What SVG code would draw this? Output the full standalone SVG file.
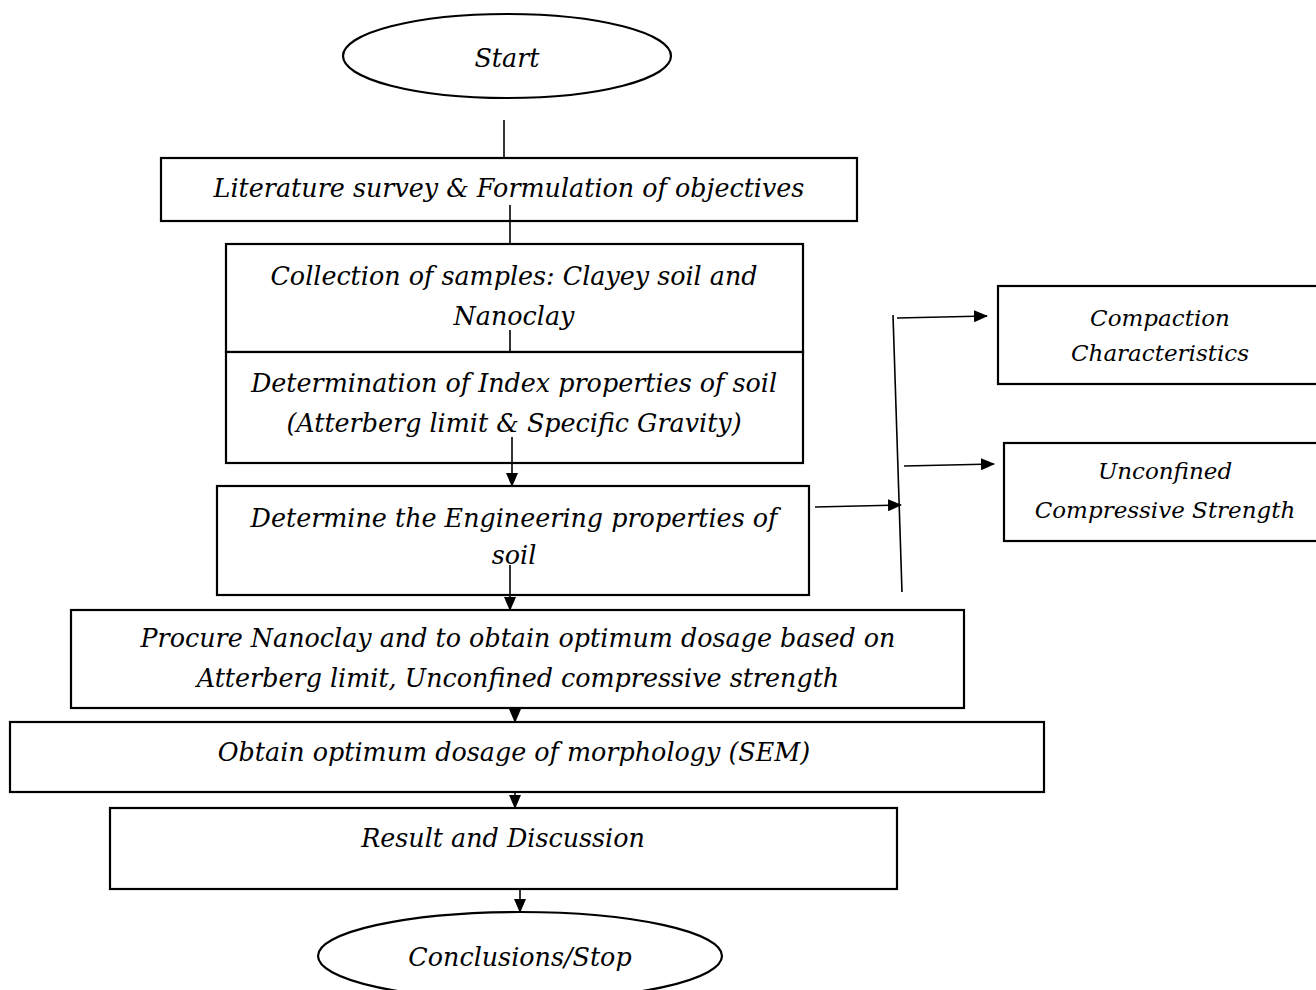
<svg xmlns="http://www.w3.org/2000/svg" width="1316" height="990" viewBox="0 0 1316 990">
<defs>
<marker id="ah" markerWidth="14" markerHeight="12" refX="13" refY="6" orient="auto" markerUnits="userSpaceOnUse">
<path d="M0,0 L14,6 L0,12 Z" fill="#000"/>
</marker>
</defs>
<style>
.box{fill:#fff;stroke:#000;stroke-width:2.2}
.t{font-family:"DejaVu Serif",serif;font-style:italic;font-size:25.4px;fill:#000;text-anchor:middle}
.s{font-size:23px}
.c{stroke:#000;stroke-width:1.6;fill:none}
</style>
<rect width="1316" height="990" fill="#fff"/>
<g id="start"><ellipse class="box" cx="507" cy="56" rx="164" ry="42"/><text class="t" x="507" y="67">Start</text></g>
<g id="literature"><rect class="box" x="161" y="158" width="696" height="63"/><text class="t" x="509" y="197">Literature survey &amp; Formulation of objectives</text></g>
<g id="collection"><rect class="box" x="226" y="244" width="577" height="108"/><text class="t" x="514" y="285">Collection of samples: Clayey soil and</text><text class="t" x="514" y="325">Nanoclay</text></g>
<g id="index"><rect class="box" x="226" y="352" width="577" height="111"/><text class="t" x="514" y="392">Determination of Index properties of soil</text><text class="t" x="514" y="432">(Atterberg limit &amp; Specific Gravity)</text></g>
<g id="engineering"><rect class="box" x="217" y="486" width="592" height="109"/><text class="t" x="514" y="527">Determine the Engineering properties of</text><text class="t" x="514" y="564">soil</text></g>
<g id="procure"><rect class="box" x="71" y="610" width="893" height="98"/><text class="t" x="518" y="647">Procure Nanoclay and to obtain optimum dosage based on</text><text class="t" x="518" y="687">Atterberg limit, Unconfined compressive strength</text></g>
<g id="sem"><rect class="box" x="10" y="722" width="1034" height="70"/><text class="t" x="514" y="761">Obtain optimum dosage of morphology (SEM)</text></g>
<g id="result"><rect class="box" x="110" y="808" width="787" height="81"/><text class="t" x="503" y="847">Result and Discussion</text></g>
<g id="stop"><ellipse class="box" cx="520" cy="956" rx="202" ry="44"/><text class="t" x="520" y="966">Conclusions/Stop</text></g>
<g id="compaction"><rect class="box" x="998" y="286" width="330" height="98"/><text class="t s" x="1160" y="326">Compaction</text><text class="t s" x="1160" y="361">Characteristics</text></g>
<g id="ucs"><rect class="box" x="1004" y="443" width="330" height="98"/><text class="t s" x="1165" y="479">Unconfined</text><text class="t s" x="1165" y="518">Compressive Strength</text></g>
<g id="connectors">
<line class="c" x1="504" y1="120" x2="504" y2="158"/>
<line class="c" x1="510" y1="205" x2="510" y2="244"/>
<line class="c" x1="510" y1="330" x2="510" y2="352"/>
<line class="c" x1="512" y1="437" x2="512" y2="486" marker-end="url(#ah)"/>
<line class="c" x1="510" y1="565" x2="510" y2="610" marker-end="url(#ah)"/>
<line class="c" x1="515" y1="708" x2="515" y2="722" marker-end="url(#ah)"/>
<line class="c" x1="515" y1="792" x2="515" y2="808" marker-end="url(#ah)"/>
<line class="c" x1="520" y1="889" x2="520" y2="912" marker-end="url(#ah)"/>
<line class="c" x1="893" y1="315" x2="902" y2="592"/>
<line class="c" x1="815" y1="507" x2="901" y2="505" marker-end="url(#ah)"/>
<line class="c" x1="897" y1="318" x2="987" y2="316" marker-end="url(#ah)"/>
<line class="c" x1="904" y1="466" x2="994" y2="464" marker-end="url(#ah)"/>
</g>
</svg>
